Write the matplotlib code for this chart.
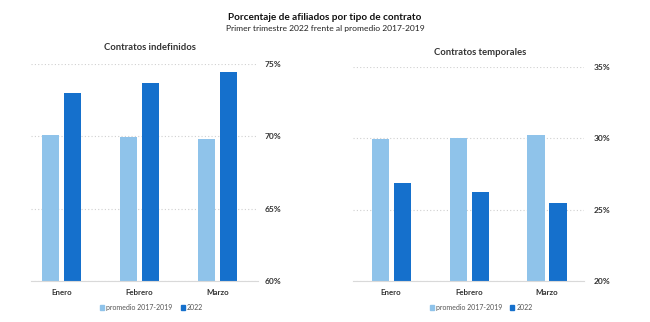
import numpy as np
import matplotlib.pyplot as plt
from matplotlib.patches import Patch

plt.rcParams['font.family'] = ['Lato', 'DejaVu Sans']

meses = ["Enero", "Febrero", "Marzo"]
series = ["promedio 2017-2019", "2022"]

# porcentaje de afiliados (%)
indef_promedio = [70.07, 69.93, 69.8]
indef_2022 = [73.0, 73.7, 74.45]
temp_promedio = [29.93, 30.0, 30.2]
temp_2022 = [26.9, 26.25, 25.5]

c_claro = "#8fc3ea"
c_oscuro = "#1570cc"
c_texto = "#333333"

fig = plt.figure(figsize=(6.5, 3.22), dpi=100)
fig.patch.set_facecolor("white")

fig.text(0.5, 0.947, "Porcentaje de afiliados por tipo de contrato",
         ha="center", va="center", fontsize=7.2, fontweight="bold", color="#111111")
fig.text(0.5, 0.912, "Primer trimestre 2022 frente al promedio 2017-2019",
         ha="center", va="center", fontsize=6.1, color="#222222")


def panel(rect, prom, v22, ylim, xlim, titulo, titulo_xy, ley_x, pad):
    ax = fig.add_axes(rect)
    x = np.arange(len(meses))
    w = 0.22
    off = 0.141
    ax.bar(x - off, np.array(prom) - ylim[0], w, bottom=ylim[0], color=c_claro, zorder=3)
    ax.bar(x + off, np.array(v22) - ylim[0], w, bottom=ylim[0], color=c_oscuro, zorder=3)
    ax.set_ylim(*ylim)
    ax.set_xlim(*xlim)
    ticks = np.arange(ylim[0], ylim[1] + 0.1, 5)
    ax.set_yticks(ticks)
    ax.set_yticklabels([f"{t:.0f}%" for t in ticks], fontsize=6.0,
                       fontweight="bold", color=c_texto)
    ax.yaxis.tick_right()
    ax.tick_params(axis="y", length=0, pad=pad)
    ax.set_xticks(x)
    ax.set_xticklabels(meses, fontsize=5.7, fontweight="bold", color=c_texto)
    ax.tick_params(axis="x", length=0, pad=6)
    ax.grid(axis="y", color="#d0d0d0", linestyle=(0, (1, 2)), linewidth=0.8, zorder=0)
    for s in ["top", "left", "right"]:
        ax.spines[s].set_visible(False)
    ax.spines["bottom"].set_color("#d9d9d9")
    ax.spines["bottom"].set_linewidth(0.8)
    ax.spines["bottom"].set_zorder(4)
    fig.text(titulo_xy[0], titulo_xy[1], titulo, ha="center", va="center",
             fontsize=6.8, fontweight="bold", color=c_texto)
    handles = [Patch(color=c_claro), Patch(color=c_oscuro)]
    fig.legend(handles, series, loc="center", bbox_to_anchor=(ley_x, 0.045),
               ncol=2, frameon=False, fontsize=5.0, handlelength=0.55,
               handleheight=0.55, handletextpad=0.3, columnspacing=1.2,
               labelcolor="#555555")
    return ax


panel([0.048, 0.127, 0.349, 0.674], indef_promedio, indef_2022, (60, 75),
      (-0.39, 2.52), "Contratos indefinidos", (0.231, 0.851), 0.233, 5)
panel([0.543, 0.127, 0.355, 0.665], temp_promedio, temp_2022, (20, 35),
      (-0.49, 2.47), "Contratos temporales", (0.738, 0.836), 0.74, 7)

fig.savefig("out.png", dpi=100, facecolor="white")
